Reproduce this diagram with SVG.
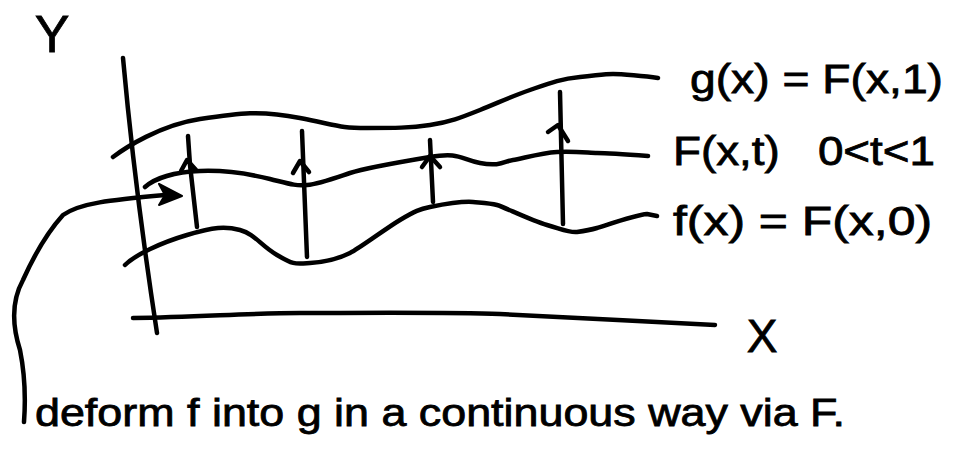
<svg xmlns="http://www.w3.org/2000/svg" width="955" height="472" viewBox="0 0 955 472">
<style>
.ln{fill:none;stroke:#000;stroke-width:4.5;stroke-linecap:round;stroke-linejoin:round}
.tx{font-family:"Liberation Sans",Arial,sans-serif;fill:#000;stroke:#000;stroke-width:0.8}
</style>
<rect width="955" height="472" fill="#fff"/>
<g id="axes">
<path class="ln" d="M123,58 Q135,190 157,333"/>
<path class="ln" d="M133,318 C200,317 250,313 300,313 S450,312 500,314 S650,322 715,325"/>
</g>
<g id="curve-g">
<path class="ln" d="M113,157 C125,148 160,125 200,119 S260,110 300,118 S340,128 367,128 S410,128 430,125 S460,118 480,110 S510,97 530,90 S560,79 580,77 S605,74 613,74 S645,76 658,78"/>
</g>
<g id="curve-F">
<path class="ln" d="M145,187 C155,178 175,172 200,171 S250,174 270,179 S295,186 307,185 S335,178 350,173 S400,162 430,157 S460,159 480,163 S505,161 513,160 S540,153 557,152 S590,153 597,153 S635,155 648,156"/>
</g>
<g id="curve-f">
<path class="ln" d="M125,265 C135,255 160,243 187,235 S225,226 240,230 S260,245 277,255 S295,264 310,263 S340,258 350,253 S385,229 400,220 S420,209 430,207 S460,201 473,202 S490,203 497,205 S530,220 547,225 S570,233 577,232 S590,230 597,228 S635,215 647,214 L657,216"/>
</g>
<g id="connectors">
<path class="ln" d="M188,136 L190,165 L197,227"/>
<path class="ln" d="M181,171 L187,160 L196,170"/>
<path class="ln" d="M302,131 L307,257"/>
<path class="ln" d="M293,173 L300,161 L309,172"/>
<path class="ln" d="M430,140 L433,202"/>
<path class="ln" d="M422,167 L430,156 L440,167"/>
<path class="ln" d="M560,92 L563,224"/>
<path class="ln" d="M548,132 L558,125 L568,141"/>
<path class="ln" d="M24,422 C26,395 24,370 20,350 C12,325 12,300 23,280 C32,260 45,235 63,215 C80,203 110,200 165,195"/>
<polygon points="159,184 182,196 159,205 165,195" fill="#000" stroke="#000" stroke-width="2" stroke-linejoin="round"/>
</g>
<g id="label-Y"><text class="tx" x="52" y="52" font-size="52" text-anchor="middle">Y</text></g>
<g id="label-X"><text class="tx" x="762" y="352" font-size="46" text-anchor="middle">X</text></g>
<g id="label-g"><text class="tx" x="690" y="93" font-size="40" textLength="253" lengthAdjust="spacingAndGlyphs">g(x) = F(x,1)</text></g>
<g id="label-F"><text class="tx" x="673" y="165" font-size="40" textLength="262" lengthAdjust="spacingAndGlyphs" xml:space="preserve">F(x,t)   0&lt;t&lt;1</text></g>
<g id="label-f"><text class="tx" x="673" y="235" font-size="40" textLength="259" lengthAdjust="spacingAndGlyphs">f(x) = F(x,0)</text></g>
<g id="caption"><text class="tx" x="35" y="426" font-size="38" textLength="810" lengthAdjust="spacingAndGlyphs">deform f into g in a continuous way via F.</text></g>
</svg>
